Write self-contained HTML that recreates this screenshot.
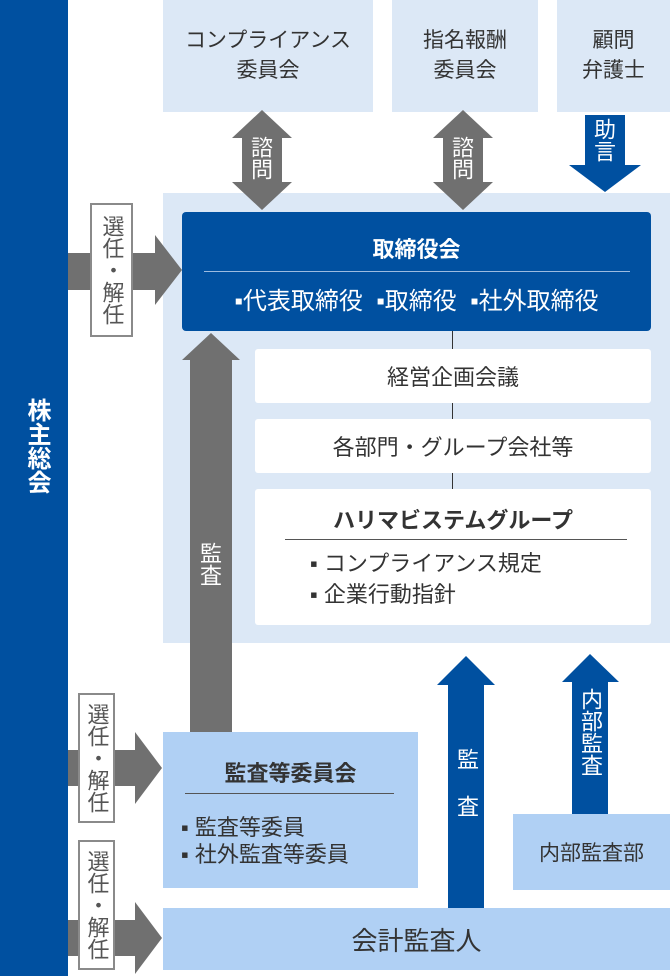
<!DOCTYPE html>
<html><head><meta charset="utf-8"><style>
body{margin:0;width:670px;height:976px;position:relative;overflow:hidden;background:#fff;font-family:"Liberation Sans","Noto Sans CJK JP",sans-serif;color:#333}
div{position:absolute;box-sizing:border-box}
.lb{background:#dce8f6}
.mb{background:#b0d0f4}
.c{display:flex;align-items:center;justify-content:center;text-align:center}
.v{writing-mode:vertical-rl;text-orientation:upright;z-index:3}
.sel{background:#fff;border:2px solid #8a8a8a;color:#555;font-size:22px;line-height:28px;display:flex;align-items:center;justify-content:center;z-index:3}
svg{position:absolute;left:0;top:0;z-index:2}
</style></head><body>
<div style="left:0;top:0;width:68px;height:976px;background:#0050a0"></div>
<div class="v" style="left:18px;top:398px;color:#fff;font-weight:bold;font-size:24px;line-height:36px;width:36px">株主総会</div>

<div class="lb c" style="left:163px;top:0;width:210px;height:112px;font-size:21px;line-height:30px">コンプライアンス<br>委員会</div>
<div class="lb c" style="left:392px;top:0;width:146px;height:112px;font-size:21px;line-height:30px">指名報酬<br>委員会</div>
<div class="lb c" style="left:557px;top:0;width:113px;height:112px;font-size:21px;line-height:30px">顧問<br>弁護士</div>

<div class="lb" style="left:163px;top:193px;width:507px;height:450px"></div>

<svg width="670" height="976">
<g fill="#707070">
<polygon points="68,253 155,253 155,235 182,270 155,305 155,290 68,290"/>
<polygon points="68,750 135,750 135,732 162,768 135,804 135,786 68,786"/>
<polygon points="68,920 135,920 135,902 162,938 135,974 135,956 68,956"/>
<polygon points="262,110 292,138 282,138 282,182 292,182 262,210 232,182 242,182 242,138 232,138"/>
<polygon points="463,110 493,138 483,138 483,182 493,182 463,210 433,182 443,182 443,138 433,138"/>
<polygon points="211,333 240,360 232,360 232,732 190,732 190,360 182,360"/>
</g>
<g fill="#0050a0">
<polygon points="585,115 625,115 625,165 641,165 605,192 569,165 585,165"/>
<polygon points="466,656 495,685 484,685 484,908 448,908 448,685 437,685"/>
<polygon points="590,654 619,682 608,682 608,814 572,814 572,682 562,682"/>
</g>
</svg>
<div class="v" style="left:248px;top:136px;color:#fff;font-size:22px;width:28px">諮問</div>
<div class="v" style="left:449px;top:136px;color:#fff;font-size:22px;width:28px">諮問</div>
<div class="v" style="left:591px;top:118px;color:#fff;font-size:22px;width:28px">助言</div>

<div class="sel" style="left:90px;top:203px;width:43px;height:134px"><span class="v">選任・解任</span></div>

<div style="left:182px;top:212px;width:469px;height:119px;background:#0050a0;border-radius:4px;color:#fff;z-index:3">
<div style="left:0;top:20px;width:469px;text-align:center;font-weight:bold;font-size:22px">取締役会</div>
<div style="left:22px;top:59px;width:426px;height:1px;background:#9cbbe0"></div>
<div style="left:0;top:69px;width:469px;text-align:center;font-size:24px;white-space:nowrap">▪代表取締役 &nbsp;▪取締役 &nbsp;▪社外取締役</div>
</div>
<div style="left:452px;top:331px;width:1px;height:158px;background:#333"></div>
<div class="c" style="left:255px;top:349px;width:396px;height:54px;background:#fff;border-radius:3px;font-size:22px">経営企画会議</div>
<div class="c" style="left:255px;top:419px;width:396px;height:54px;background:#fff;border-radius:3px;font-size:22px">各部門・グループ会社等</div>
<div style="left:255px;top:489px;width:396px;height:136px;background:#fff;border-radius:3px">
<div style="left:0;top:14px;width:396px;text-align:center;font-weight:bold;font-size:22px">ハリマビステムグループ</div>
<div style="left:30px;top:50px;width:342px;height:1px;background:#555"></div>
<div style="left:55px;top:59px;font-size:22px;line-height:31px;white-space:nowrap">▪ コンプライアンス規定<br>▪ 企業行動指針</div>
</div>
<div class="v" style="left:197px;top:542px;color:#fff;font-size:22px;width:28px">監査</div>

<div class="sel" style="left:78px;top:693px;width:37px;height:130px"><span class="v">選任・解任</span></div>
<div class="sel" style="left:78px;top:840px;width:37px;height:130px"><span class="v">選任・解任</span></div>

<div class="mb" style="left:163px;top:732px;width:255px;height:156px;z-index:3">
<div style="left:0;top:24px;width:255px;text-align:center;font-weight:bold;font-size:22px">監査等委員会</div>
<div style="left:22px;top:61px;width:209px;height:1px;background:#555"></div>
<div style="left:18px;top:82px;font-size:22px;line-height:27px;white-space:nowrap">▪ 監査等委員<br>▪ 社外監査等委員</div>
</div>
<div class="v" style="left:452px;top:748px;color:#fff;font-size:22px;width:28px;line-height:28px">監 査</div>
<div class="v" style="left:576px;top:688px;color:#fff;font-size:22px;width:28px;line-height:28px">内部監査</div>
<div class="mb c" style="left:513px;top:814px;width:157px;height:76px;font-size:21px;z-index:3">内部監査部</div>
<div class="mb c" style="left:163px;top:908px;width:507px;height:62px;font-size:26px;z-index:3">会計監査人</div>
</body></html>
